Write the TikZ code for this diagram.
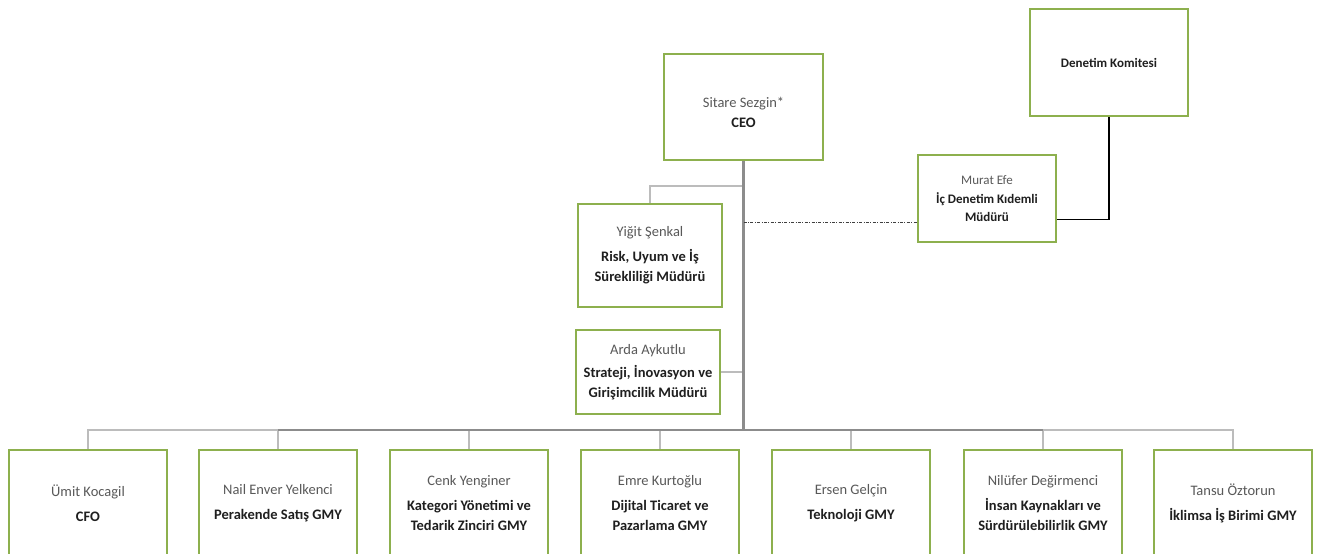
\documentclass[tikz,border=0pt]{standalone}
\usepackage{fontspec}
\setmainfont{Carlito}
\usepackage{tikz}
\definecolor{boxgreen}{HTML}{8DB04E}
\definecolor{namegray}{HTML}{595959}
\definecolor{titleblack}{HTML}{1F1F1F}
\definecolor{linegray}{HTML}{8C8C8C}
\definecolor{lightgray}{HTML}{BCBCBC}
\newcommand{\pname}[1]{{\color{namegray}\mdseries #1}}

\begin{document}
\begin{tikzpicture}
    [x=1pt,y=-1pt,
     box/.style={draw=boxgreen,line width=2.6pt,fill=white,align=center,
       inner sep=2pt,text=titleblack,font=\fontsize{14.5}{20}\selectfont\bfseries},
     smallbox/.style={box,font=\fontsize{13}{17.5}\selectfont\bfseries},
     conn/.style={draw=lightgray,line width=1.8pt},
     trunk/.style={draw=linegray,line width=2.2pt},
     dotted link/.style={draw=black!75,line width=0.8pt,
       dash pattern=on 3pt off 1.5pt on 0.8pt off 1.5pt}]

    \useasboundingbox (0,0) rectangle (1317,554);
    \clip (0,0) rectangle (1317,554);

    % top of the chart
    \node[box,minimum width=159pt,minimum height=106pt] (ceo) at (743.5,107)
      {~\\[1pt]\pname{Sitare Sezgin*}\\CEO};
    \node[smallbox,minimum width=158pt,minimum height=107pt] (denetim) at (1109,62.5)
      {Denetim Komitesi};
    \node[smallbox,minimum width=138pt,minimum height=87pt] (murat) at (987,198.5)
      {\pname{Murat Efe}\\[2pt]İç Denetim Kıdemli\\Müdürü};
    \node[box,minimum width=144pt,minimum height=103pt] (yigit) at (650,255.5)
      {\pname{Yiğit Şenkal}\\[5pt]Risk, Uyum ve İş\\Sürekliliği Müdürü};
    \node[box,minimum width=144pt,minimum height=84pt] (arda) at (648,372)
      {\pname{Arda Aykutlu}\\[3pt]Strateji, İnovasyon ve\\Girişimcilik Müdürü};

    % GMY row
    \node[box,minimum width=158pt,minimum height=106pt] (cfo) at (88,503)
      {\pname{Ümit Kocagil}\\[5pt]CFO};
    \node[box,minimum width=158pt,minimum height=106pt] (satis) at (278,503)
      {\pname{Nail Enver Yelkenci}\\[5pt]Perakende Satış GMY};
    \node[box,minimum width=158pt,minimum height=106pt] (kategori) at (469,503)
      {\pname{Cenk Yenginer}\\[5pt]Kategori Yönetimi ve\\Tedarik Zinciri GMY};
    \node[box,minimum width=158pt,minimum height=106pt] (dijital) at (660,503)
      {\pname{Emre Kurtoğlu}\\[5pt]Dijital Ticaret ve\\Pazarlama GMY};
    \node[box,minimum width=158pt,minimum height=106pt] (teknoloji) at (851,503)
      {\pname{Ersen Gelçin}\\[5pt]Teknoloji GMY};
    \node[box,minimum width=158pt,minimum height=106pt] (ik) at (1043,503)
      {\pname{Nilüfer Değirmenci}\\[5pt]İnsan Kaynakları ve\\Sürdürülebilirlik GMY};
    \node[box,minimum width=158pt,minimum height=106pt] (iklimsa) at (1233,503)
      {\pname{Tansu Öztorun}\\[5pt]İklimsa İş Birimi GMY};

    % connectors
    \coordinate (bus) at (ceo.south |- 0,430);
    \draw[conn] (ceo.south) -- ++(0,25) -| (yigit.north);
    \draw[conn] (ceo.south) |- (arda.east);
    \foreach \n in {cfo,satis,kategori,dijital,teknoloji,ik,iklimsa}
      \draw[conn] (ceo.south) |- (bus) -| (\n.north);
    \draw[trunk] (ceo.south) -- (bus);
    \draw[trunk] (satis.north |- bus) -- (ik.north |- bus);

    \coordinate (tap) at (ceo.south |- 0,222);
    \draw[dotted link] (tap) -- (tap -| murat.west);
    \draw[line width=1.2pt] (denetim.south) |- ([yshift=-21pt]murat.east);
\end{tikzpicture}
\end{document}
